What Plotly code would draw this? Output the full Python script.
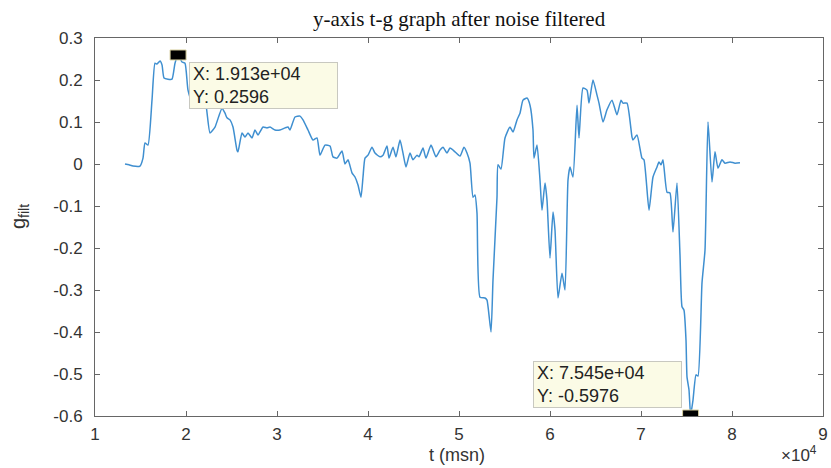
import plotly.graph_objects as go

# time (msn) and filtered g values
t = [13297, 13736, 14176, 14945, 15275, 15495, 15824, 16264, 16593, 16813,
     17143, 17363, 17582, 18022, 18462, 18791, 19130, 19560, 19890, 20220,
     20769, 21429, 22088, 22637, 23187, 23956, 24286, 24505, 24835, 25165,
     25604, 25714, 26154, 26484, 26813, 27253, 27582, 27912, 28462, 28901,
     29231, 29780, 30330, 30879, 31209, 31429, 31978, 32527, 32857, 33407,
     33956, 34396, 34725, 35275, 35824, 36154, 36593, 37143, 37473, 37802,
     38242, 38571, 38901, 39231, 39451, 39670, 40000, 40440, 40769, 41319,
     41648, 42088, 42308, 42747, 43077, 43516, 43846, 44176, 44615, 44945,
     45385, 45604, 46044, 46374, 46923, 47473, 47912, 48242, 48681, 49011,
     49560, 50110, 50549, 50879, 51209, 51538, 51758, 51978, 52308, 52857,
     53077, 53516, 53736, 54176, 54286, 54615, 55055, 55604, 55934, 56374,
     56703, 57033, 57473, 57802, 58132, 58242, 58571, 58901, 59121, 59451,
     59670, 60000, 60330, 60549, 60879, 61319, 61648, 61978, 62198, 62527,
     62967, 63187, 63626, 64066, 64286, 64725, 65165, 65385, 65824, 66264,
     66813, 67363, 67802, 68022, 68462, 69011, 69121, 69560, 70110, 70330,
     70879, 71319, 71758, 71978, 72198, 72418, 72857, 73187, 73516, 73956,
     74286, 74505, 74725, 74945, 75055, 75275, 75450, 75714, 76044, 76264,
     76703, 77033, 77363, 77802, 78132, 78462, 78901, 79231, 79780, 80330,
     80879]
g = [0.000, -0.002, -0.005, -0.005, 0.014, 0.050, 0.045, 0.152, 0.240, 0.238,
     0.245, 0.236, 0.205, 0.202, 0.202, 0.240, 0.2596, 0.243, 0.240, 0.176,
     0.140, 0.164, 0.152, 0.074, 0.088, 0.133, 0.121, 0.110, 0.105, 0.088,
     0.033, 0.029, 0.074, 0.064, 0.074, 0.062, 0.081, 0.069, 0.088, 0.086,
     0.088, 0.081, 0.081, 0.086, 0.088, 0.081, 0.112, 0.114, 0.105, 0.081,
     0.057, 0.062, 0.021, 0.045, 0.043, 0.017, 0.014, 0.031, 0.000, 0.010,
     -0.021, -0.031, -0.050, -0.079, -0.031, 0.014, 0.021, 0.040, 0.026, 0.017,
     0.021, 0.043, 0.014, 0.040, 0.017, 0.057, 0.026, -0.007, 0.026, 0.010,
     0.021, 0.017, 0.038, 0.014, 0.045, 0.017, 0.033, 0.040, 0.026, 0.038,
     0.029, 0.019, 0.040, 0.026, 0.002, -0.079, -0.074, -0.117, -0.317, -0.319,
     -0.324, -0.400, -0.276, -0.079, -0.002, -0.012, 0.062, 0.088, 0.076, 0.105,
     0.121, 0.152, 0.157, 0.140, 0.081, 0.014, 0.045, -0.038, -0.110, -0.045,
     -0.086, -0.224, -0.114, -0.157, -0.319, -0.260, -0.300, -0.038, -0.007, -0.031,
     0.140, 0.062, 0.181, 0.176, 0.145, 0.200, 0.164, 0.145, 0.100, 0.129,
     0.152, 0.117, 0.152, 0.145, 0.145, 0.064, 0.057, 0.069, 0.014, 0.010,
     -0.110, -0.031, -0.007, 0.005, -0.002, 0.010, -0.067, -0.069, -0.162, -0.045,
     -0.217, -0.340, -0.348, -0.419, -0.507, -0.538, -0.5976, -0.562, -0.502, -0.505,
     -0.283, -0.205, 0.100, -0.043, 0.029, -0.010, 0.010, 0.002, 0.005, 0.002,
     0.003]

x_ticks = [10000, 20000, 30000, 40000, 50000, 60000, 70000, 80000, 90000]
x_tick_labels = ["1", "2", "3", "4", "5", "6", "7", "8", "9"]
y_ticks = [0.3, 0.2, 0.1, 0, -0.1, -0.2, -0.3, -0.4, -0.5, -0.6]
y_tick_labels = ["0.3", "0.2", "0.1", "0", "-0.1", "-0.2", "-0.3", "-0.4", "-0.5", "-0.6"]

tips = [(19130, 0.2596, "X: 1.913e+04<br>Y: 0.2596"),
        (75450, -0.5976, "X: 7.545e+04<br>Y: -0.5976")]

title = "y-axis t-g graph after noise filtered"
x_label = "t (msn)"
y_label = "g<sub>filt</sub>"

TXT = "#333333"
AX = "#666666"
SANS = "Liberation Sans, Arial, sans-serif"

fig = go.Figure()
fig.add_trace(go.Scatter(x=t, y=g, mode="lines",
                         line=dict(color="#3f8fd0", width=1.5, shape="spline", smoothing=0.5),
                         hoverinfo="skip", showlegend=False))

axis_common = dict(showline=True, linecolor=AX, linewidth=1, mirror="ticks",
                   ticks="inside", ticklen=5, tickcolor=AX, showgrid=False,
                   zeroline=False, automargin=False,
                   tickfont=dict(family=SANS, size=17, color=TXT))
fig.update_xaxes(range=[10000, 90000], tickvals=x_ticks, ticktext=x_tick_labels,
                 ticklabelstandoff=3, **axis_common)
fig.update_yaxes(range=[-0.6, 0.3], tickvals=y_ticks, ticktext=y_tick_labels,
                 ticklabelstandoff=8, **axis_common)

# datatips
for i, (tx, ty, txt) in enumerate(tips):
    fig.add_shape(type="rect", xref="x", yref="y", xsizemode="pixel", ysizemode="pixel",
                  xanchor=tx, yanchor=ty, x0=-8, x1=8, y0=-5, y1=5,
                  fillcolor="black", line=dict(color="#d8d0a0", width=1), layer="above")
    if i == 0:
        fig.add_annotation(x=tx, y=ty, xref="x", yref="y", text=txt, showarrow=False,
                           xanchor="left", yanchor="top", xshift=11, yshift=-7,
                           align="left", width=141, height=39, borderpad=3,
                           bgcolor="#fbfbe6", bordercolor="#c8c8c0", borderwidth=1,
                           font=dict(family=SANS, size=18, color="#222222"))
    else:
        fig.add_annotation(x=tx, y=ty, xref="x", yref="y", text=txt, showarrow=False,
                           xanchor="right", yanchor="bottom", xshift=-9, yshift=7,
                           align="left", width=141, height=39, borderpad=3,
                           bgcolor="#fbfbe6", bordercolor="#c8c8c0", borderwidth=1,
                           font=dict(family=SANS, size=18, color="#222222"))

# title and axis labels
fig.add_annotation(x=0.5, y=1, xref="paper", yref="paper", yanchor="bottom", yshift=5,
                   text=title, showarrow=False,
                   font=dict(family="Liberation Serif, Times New Roman, serif", size=21, color="#111111"))
fig.add_annotation(x=0.497, y=0, xref="paper", yref="paper", yanchor="top", yshift=-27,
                   text=x_label, showarrow=False, font=dict(family=SANS, size=18, color=TXT))
fig.add_annotation(x=1, y=0, xref="paper", yref="paper", xanchor="right", yanchor="top",
                   xshift=-4, yshift=-25, text="×10<sup>4</sup>", showarrow=False,
                   font=dict(family=SANS, size=17, color=TXT))
fig.add_annotation(x=0, y=0.5, xref="paper", yref="paper", xanchor="center", yanchor="middle",
                   xshift=-76, yshift=10, text=y_label, textangle=-90, showarrow=False,
                   font=dict(family=SANS, size=20, color=TXT))

fig.update_layout(width=831, height=468, margin=dict(l=95, r=8, t=38, b=52),
                  paper_bgcolor="white", plot_bgcolor="white")

fig.write_html("out.html")
